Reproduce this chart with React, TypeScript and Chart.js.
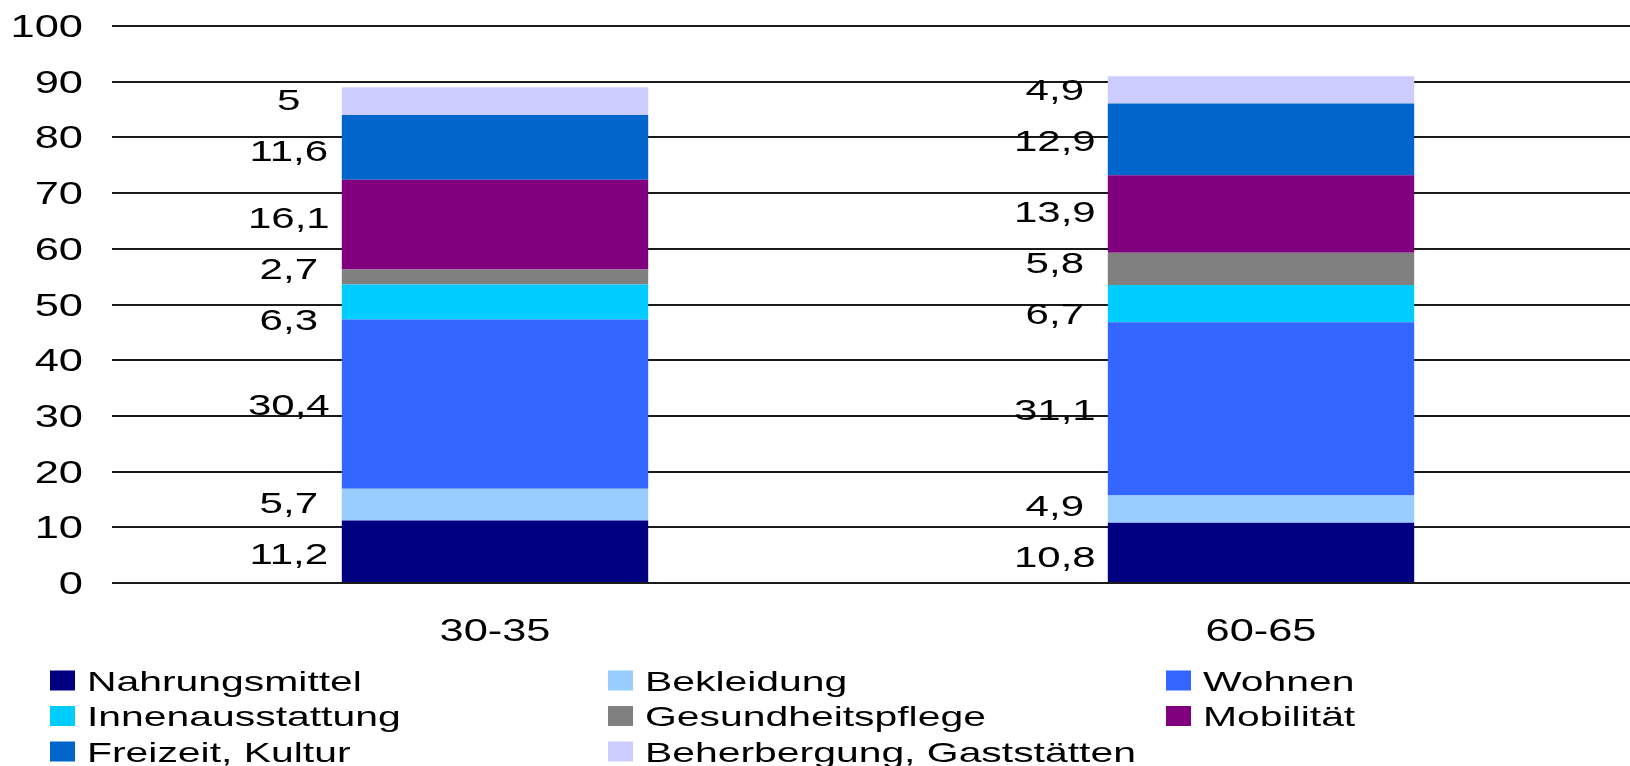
import React, { useEffect, useRef } from "react";
import { Chart, registerables } from "chart.js";

Chart.register(...registerables);

const categories = ["30-35", "60-65"];
const seriesNames = [
  "Nahrungsmittel",
  "Bekleidung",
  "Wohnen",
  "Innenausstattung",
  "Gesundheitspflege",
  "Mobilität",
  "Freizeit, Kultur",
  "Beherbergung, Gaststätten",
];
const seriesColors = [
  "#000080",
  "#99CCFF",
  "#3366FF",
  "#00CCFF",
  "#808080",
  "#800080",
  "#0066CC",
  "#CCCCFF",
];
const nahrungsmittel = [11.2, 10.8];
const bekleidung = [5.7, 4.9];
const wohnen = [30.4, 31.1];
const innenausstattung = [6.3, 6.7];
const gesundheitspflege = [2.7, 5.8];
const mobilitaet = [16.1, 13.9];
const freizeit = [11.6, 12.9];
const beherbergung = [5, 4.9];
const seriesValues = [
  nahrungsmittel,
  bekleidung,
  wohnen,
  innenausstattung,
  gesundheitspflege,
  mobilitaet,
  freizeit,
  beherbergung,
];
const yMin = 0;
const yMax = 100;
const yStep = 10;

const FONT = "'Liberation Sans', Arial, sans-serif";
const SX = 1.4;
const SX_LEGEND = 1.46;
const LABEL_MIN_GAP = 51;

function stretchedText(
  ctx: CanvasRenderingContext2D,
  text: string,
  x: number,
  y: number,
  align: CanvasTextAlign,
  size: number,
  sx: number = SX
) {
  ctx.save();
  ctx.font = `${size}px ${FONT}`;
  ctx.fillStyle = "#000";
  ctx.textBaseline = "alphabetic";
  ctx.textAlign = align;
  ctx.translate(x, y);
  ctx.scale(sx, 1);
  ctx.fillText(text, 0, 0);
  ctx.restore();
}

// spread label centers so that neighbours keep a minimum distance
function spread(ys: number[], gap: number): number[] {
  const out = ys.slice();
  for (let it = 0; it < 200; it++) {
    let moved = false;
    for (let k = 0; k < out.length - 1; k++) {
      // out sorted from bottom (large y) to top (small y)
      const d = out[k] - out[k + 1];
      if (d < gap - 0.01) {
        const push = (gap - d) / 2;
        out[k] += push;
        out[k + 1] -= push;
        moved = true;
      }
    }
    if (!moved) break;
  }
  return out;
}

const customText = {
  id: "customText",
  afterDraw(chart: any) {
    const ctx: CanvasRenderingContext2D = chart.ctx;
    const ys = chart.scales.y;
    const xs = chart.scales.x;
    // y tick labels
    ys.ticks.forEach((t: any) => {
      const y = ys.getPixelForValue(t.value);
      stretchedText(ctx, String(t.value), 83, y + 0.358 * 31, "right", 31);
    });
    // x labels
    chart.data.labels.forEach((lab: string, i: number) => {
      const x = xs.getPixelForValue(i);
      stretchedText(ctx, lab, x, 641, "center", 31);
    });
    // data labels, per category
    chart.data.labels.forEach((_: string, i: number) => {
      const items: { y: number; x: number; txt: string }[] = [];
      chart.data.datasets.forEach((ds: any, di: number) => {
        const el: any = chart.getDatasetMeta(di).data[i];
        if (!el) return;
        const left = el.x - el.width / 2;
        items.push({
          y: (el.y + el.base) / 2,
          x: left - 53,
          txt: String(ds.data[i]).replace(".", ","),
        });
      });
      const pos = spread(
        items.map((it) => it.y),
        LABEL_MIN_GAP
      );
      items.forEach((it, k) => {
        stretchedText(ctx, it.txt, it.x, pos[k] + 0.358 * 30, "center", 30);
      });
    });
    // legend
    const colX = [50, 608, 1166];
    const rowY = [680.5, 716, 751.5];
    chart.data.datasets.forEach((ds: any, di: number) => {
      const col = di % 3;
      const row = Math.floor(di / 3);
      const bx = colX[col];
      const by = rowY[row];
      ctx.save();
      ctx.fillStyle = ds.backgroundColor;
      ctx.fillRect(bx, by - 10, 25, 20);
      ctx.restore();
      stretchedText(ctx, ds.label, bx + 37, by + 0.358 * 28, "left", 28, SX_LEGEND);
    });
  },
};

export default function App() {
  const ref = useRef<HTMLCanvasElement | null>(null);
  useEffect(() => {
    document.body.style.margin = "0";
    document.body.style.overflow = "hidden";
    const canvas = ref.current;
    if (!canvas) return;
    const chart = new Chart(canvas, {
      type: "bar",
      data: {
        labels: categories,
        datasets: seriesNames.map((name, i) => ({
          label: name,
          data: seriesValues[i],
          backgroundColor: seriesColors[i],
          borderWidth: 0,
          categoryPercentage: 1,
          barPercentage: 0.4,
        })),
      },
      options: {
        responsive: false,
        animation: false,
        devicePixelRatio: 1,
        layout: { padding: { top: 26, left: 0, right: 0, bottom: 0 } },
        plugins: {
          legend: { display: false },
          tooltip: { enabled: false },
        },
        scales: {
          x: {
            stacked: true,
            grid: { display: false },
            border: { display: false },
            ticks: { display: false },
            afterFit: (s: any) => {
              s.height = 183;
            },
          },
          y: {
            stacked: true,
            min: yMin,
            max: yMax,
            ticks: { display: false, stepSize: yStep },
            grid: { color: "#1a1a1a", lineWidth: 2, drawTicks: false },
            border: { display: false },
            afterFit: (s: any) => {
              s.width = 112;
            },
          },
        },
      },
      plugins: [customText],
    });
    return () => chart.destroy();
  }, []);
  return (
    <div style={{ width: 1630, height: 766, overflow: "hidden", background: "#fff" }}>
      <canvas ref={ref} width={1644} height={766} style={{ display: "block" }} />
    </div>
  );
}
